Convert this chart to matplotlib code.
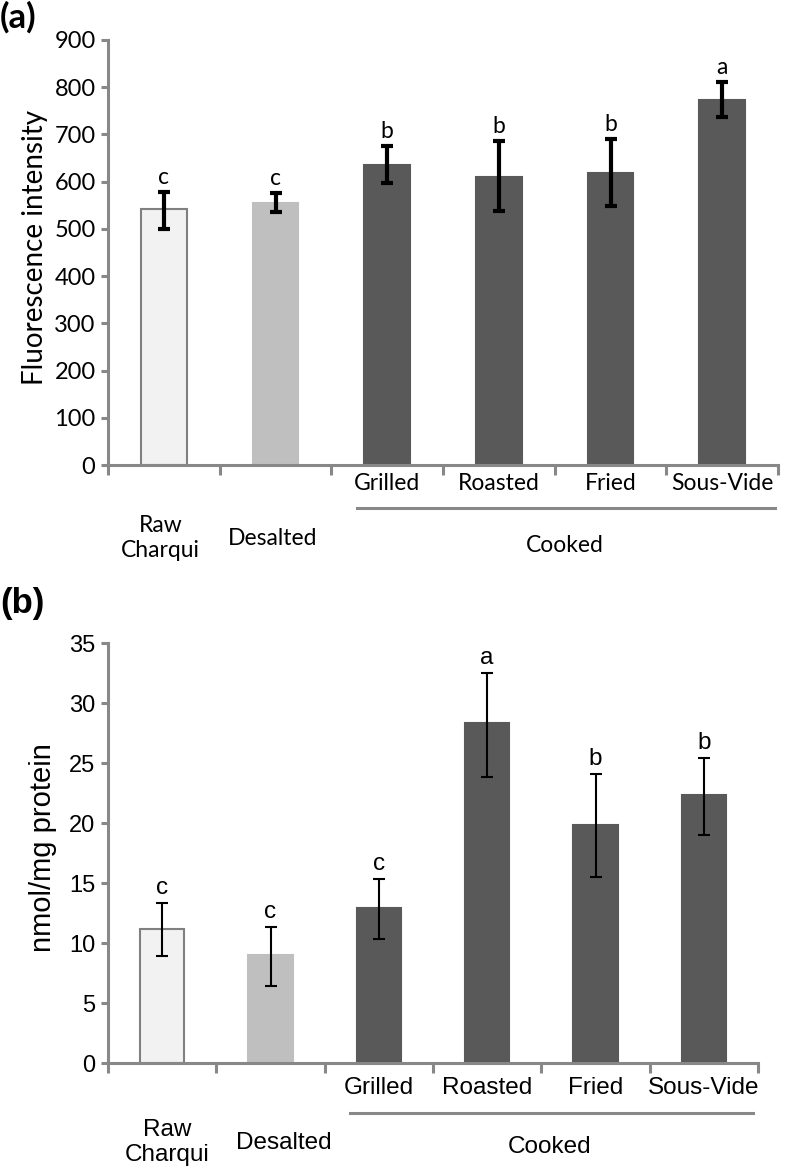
import matplotlib
matplotlib.use("Agg")
import matplotlib.pyplot as plt
import numpy as np

categories = ["Raw\nCharqui", "Desalted", "Grilled", "Roasted", "Fried", "Sous-Vide"]
cooked_labels = ["Grilled", "Roasted", "Fried", "Sous-Vide"]
group_label = "Cooked"

# Panel (a): fluorescence intensity
fluo_mean = [543, 554, 635, 610, 619, 772]
fluo_err_low = [43, 18, 38, 72, 70, 35]
fluo_err_high = [35, 22, 40, 76, 71, 39]
fluo_letters = ["c", "c", "b", "b", "b", "a"]

# Panel (b): nmol/mg protein
nmol_mean = [11.2, 9.0, 12.9, 28.3, 19.8, 22.3]
nmol_err_low = [2.3, 2.6, 2.6, 4.5, 4.3, 3.3]
nmol_err_high = [2.1, 2.3, 2.4, 4.2, 4.3, 3.1]
nmol_letters = ["c", "c", "c", "a", "b", "b"]

face_colors = ["#f2f2f2", "#bfbfbf", "#595959", "#595959", "#595959", "#595959"]
edge_colors = ["#808080", "#bfbfbf", "#595959", "#595959", "#595959", "#595959"]
spine_col = "#888888"

W, H = 786, 1174
fig = plt.figure(figsize=(W / 100, H / 100), dpi=100)


def panel(rect, means, lo, hi, letters, ylim, yticks, ylabel, font, tfs, fs, yfs, ebw, capsize,
          lab_y, line_y, line_x, cooked_y, cooked_x, raw_xy, des_xy, letter_off,
          tag, tag_font, tag_xy, ylab_px):
    ax = fig.add_axes(rect)
    n = len(means)
    x = np.arange(n) + 0.5
    ax.bar(x, means, width=0.41, color=face_colors, edgecolor=edge_colors, linewidth=1.5, zorder=2)
    ax.errorbar(x, means, yerr=[lo, hi], fmt="none", ecolor="black", elinewidth=ebw,
                capsize=capsize, capthick=ebw, zorder=3)
    for xi, m, h, l in zip(x, means, hi, letters):
        ax.annotate(l, (xi, m + h), xytext=(0, letter_off), textcoords="offset points",
                    ha="center", va="bottom", fontsize=fs, family=font)
    ax.set_xlim(0, n)
    ax.set_ylim(*ylim)
    ax.set_yticks(yticks)
    ax.set_yticklabels([str(t) for t in yticks], family=font, fontsize=tfs)
    ax.set_xticks(np.arange(n + 1))
    ax.set_xticklabels([])
    for s in ["top", "right"]:
        ax.spines[s].set_visible(False)
    for s in ["left", "bottom"]:
        ax.spines[s].set_color(spine_col)
        ax.spines[s].set_linewidth(2.2)
    ax.tick_params(axis="y", direction="out", length=5, width=2.2, color=spine_col, pad=4)
    ax.tick_params(axis="x", direction="out", length=7, width=2.2, color=spine_col)
    fig.text(ylab_px[0] / W, 1 - ylab_px[1] / H, ylabel, rotation=90, ha="center", va="center",
             family=font, fontsize=yfs)
    trans = ax.get_xaxis_transform()
    for xi, lab in zip(x[2:], cooked_labels):
        ax.text(xi, lab_y, lab, transform=trans, ha="center", va="center", fontsize=fs, family=font)
    ax.plot(line_x, [line_y, line_y], transform=trans, color=spine_col, lw=2.2, clip_on=False)
    ax.text(cooked_x, cooked_y, group_label, transform=trans, ha="center", va="center", fontsize=fs, family=font)
    ax.text(raw_xy[0], raw_xy[1], categories[0], transform=trans, ha="center", va="center",
            fontsize=fs, family=font, linespacing=1.2)
    ax.text(des_xy[0], des_xy[1], categories[1], transform=trans, ha="center", va="center",
            fontsize=fs, family=font)
    fig.text(tag_xy[0] / W, 1 - tag_xy[1] / H, tag, fontsize=25, fontweight="bold",
             family=tag_font, ha="left", va="center")
    return ax


# panel (a)
panel([108 / W, 1 - 465 / H, 670 / W, 425 / H], fluo_mean, fluo_err_low, fluo_err_high, fluo_letters,
      (0, 900), list(range(0, 901, 100)), "Fluorescence intensity", "Lato", 17, 16.5, 20, 3, 4.5,
      -0.043, -0.101, [2.23, 5.97], -0.19, 4.09, (0.47, -0.172), (1.47, -0.172), 3,
      "(a)", "Lato", (0, 17), (35, 248))

# panel (b)
panel([108 / W, 1 - 1063 / H, 650 / W, 420 / H], nmol_mean, nmol_err_low, nmol_err_high, nmol_letters,
      (0, 35), list(range(0, 36, 5)), "nmol/mg protein", "Liberation Sans", 17, 17.5, 21, 1.5, 4,
      -0.06, -0.119, [2.23, 5.95], -0.2, 4.08, (0.55, -0.19), (1.62, -0.19), 3,
      "(b)", "Liberation Sans", (0, 603), (43, 848))

fig.savefig("out.png", dpi=100)
